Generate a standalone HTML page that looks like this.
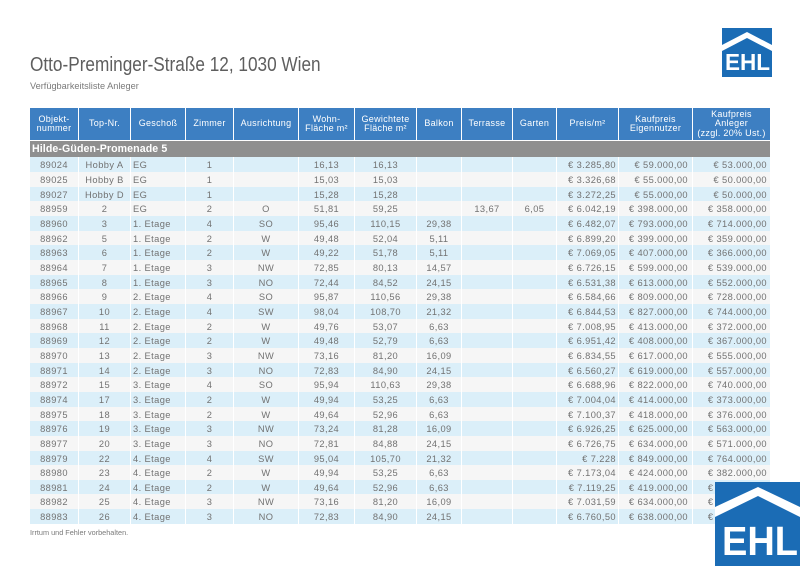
<!DOCTYPE html>
<html><head><meta charset="utf-8">
<style>
html,body{margin:0;padding:0;}
body{width:800px;height:566px;overflow:hidden;background:#fff;position:relative;font-family:"Liberation Sans",sans-serif;}
.title{position:absolute;left:30px;top:55px;font-size:20px;line-height:20px;color:#5e5e5e;white-space:nowrap;transform:scaleX(0.86);transform-origin:0 0;}
.sub{position:absolute;left:30px;top:82px;font-size:9.2px;line-height:9px;color:#7a7a7a;white-space:nowrap;}
.foot{position:absolute;left:30px;top:529px;font-size:7.3px;line-height:7.5px;color:#7a7a7a;white-space:nowrap;}
.tbl{position:absolute;left:30px;top:108px;width:740px;}
.h{display:flex;height:32px;background:#3d7fc2;color:#fff;font-size:9px;letter-spacing:0.3px;line-height:9.5px;}
.h div{box-sizing:border-box;border-right:1px solid #fff;display:flex;align-items:center;justify-content:center;text-align:center;}
.h div:last-child{border-right:none;}
.g{height:16.7px;margin-top:0.7px;background:#8f8f8f;color:#fff;font-weight:bold;font-size:10.6px;line-height:17px;padding-left:2px;letter-spacing:0.1px;}
.r{display:flex;height:14.667px;color:#727272;font-size:9.3px;letter-spacing:0.4px;}
.rows .r:nth-child(odd){background:#dbeff9;}
.rows .r:nth-child(even){background:#f6f6f6;}
.r span{box-sizing:border-box;border-right:1px solid #fff;line-height:15px;padding-top:1px;white-space:nowrap;overflow:hidden;text-align:center;}
.r span:last-child{border-right:none;}
.c1{width:49px}.c2{width:52px}.c3{width:55px}.c4{width:48px}.c5{width:65px}.c6{width:56px}.c7{width:62px}.c8{width:45px}.c9{width:51px}.c10{width:44px}.c11{width:62px}.c12{width:74px}.c13{width:77px}
.r span:nth-child(1){width:49px}
.r span:nth-child(2){width:52px}
.r span:nth-child(3){width:55px;text-align:left;padding-left:2px}
.r span:nth-child(4){width:48px}
.r span:nth-child(5){width:65px}
.r span:nth-child(6){width:56px}
.r span:nth-child(7){width:62px}
.r span:nth-child(8){width:45px}
.r span:nth-child(9){width:51px}
.r span:nth-child(10){width:44px}
.r span:nth-child(11){width:62px;text-align:right;padding-right:2px}
.r span:nth-child(12){width:74px;text-align:right;padding-right:4px}
.r span:nth-child(13){width:77px;text-align:right;padding-right:3px}
svg.logo{position:absolute;}
</style></head><body>
<div class="title">Otto-Preminger-Straße 12, 1030 Wien</div>
<div class="sub">Verfügbarkeitsliste Anleger</div>

<svg class="logo" style="left:722px;top:28px" width="50" height="49" viewBox="0 0 50 49">
<rect width="50" height="49" fill="#1b6cb5"/>
<polygon points="0,17 25,4 50,17 50,23 25,10 0,23" fill="#fff"/>
<text x="3" y="42" font-family="Liberation Sans" font-weight="bold" font-size="23.5" fill="#fff" textLength="45" lengthAdjust="spacingAndGlyphs">EHL</text>
</svg>

<div class="tbl">
<div class="h">
<div class="c1">Objekt-<br>nummer</div>
<div class="c2">Top-Nr.</div>
<div class="c3">Geschoß</div>
<div class="c4">Zimmer</div>
<div class="c5">Ausrichtung</div>
<div class="c6">Wohn-<br>Fläche m²</div>
<div class="c7">Gewichtete<br>Fläche m²</div>
<div class="c8">Balkon</div>
<div class="c9">Terrasse</div>
<div class="c10">Garten</div>
<div class="c11">Preis/m²</div>
<div class="c12">Kaufpreis<br>Eigennutzer</div>
<div class="c13">Kaufpreis<br>Anleger<br>(zzgl. 20% Ust.)</div>
</div>
<div class="g">Hilde-Güden-Promenade 5</div>
<div class="rows">
<div class="r"><span>89024</span><span>Hobby A</span><span>EG</span><span>1</span><span></span><span>16,13</span><span>16,13</span><span></span><span></span><span></span><span>€ 3.285,80</span><span>€ 59.000,00</span><span>€ 53.000,00</span></div>
<div class="r"><span>89025</span><span>Hobby B</span><span>EG</span><span>1</span><span></span><span>15,03</span><span>15,03</span><span></span><span></span><span></span><span>€ 3.326,68</span><span>€ 55.000,00</span><span>€ 50.000,00</span></div>
<div class="r"><span>89027</span><span>Hobby D</span><span>EG</span><span>1</span><span></span><span>15,28</span><span>15,28</span><span></span><span></span><span></span><span>€ 3.272,25</span><span>€ 55.000,00</span><span>€ 50.000,00</span></div>
<div class="r"><span>88959</span><span>2</span><span>EG</span><span>2</span><span>O</span><span>51,81</span><span>59,25</span><span></span><span>13,67</span><span>6,05</span><span>€ 6.042,19</span><span>€ 398.000,00</span><span>€ 358.000,00</span></div>
<div class="r"><span>88960</span><span>3</span><span>1. Etage</span><span>4</span><span>SO</span><span>95,46</span><span>110,15</span><span>29,38</span><span></span><span></span><span>€ 6.482,07</span><span>€ 793.000,00</span><span>€ 714.000,00</span></div>
<div class="r"><span>88962</span><span>5</span><span>1. Etage</span><span>2</span><span>W</span><span>49,48</span><span>52,04</span><span>5,11</span><span></span><span></span><span>€ 6.899,20</span><span>€ 399.000,00</span><span>€ 359.000,00</span></div>
<div class="r"><span>88963</span><span>6</span><span>1. Etage</span><span>2</span><span>W</span><span>49,22</span><span>51,78</span><span>5,11</span><span></span><span></span><span>€ 7.069,05</span><span>€ 407.000,00</span><span>€ 366.000,00</span></div>
<div class="r"><span>88964</span><span>7</span><span>1. Etage</span><span>3</span><span>NW</span><span>72,85</span><span>80,13</span><span>14,57</span><span></span><span></span><span>€ 6.726,15</span><span>€ 599.000,00</span><span>€ 539.000,00</span></div>
<div class="r"><span>88965</span><span>8</span><span>1. Etage</span><span>3</span><span>NO</span><span>72,44</span><span>84,52</span><span>24,15</span><span></span><span></span><span>€ 6.531,38</span><span>€ 613.000,00</span><span>€ 552.000,00</span></div>
<div class="r"><span>88966</span><span>9</span><span>2. Etage</span><span>4</span><span>SO</span><span>95,87</span><span>110,56</span><span>29,38</span><span></span><span></span><span>€ 6.584,66</span><span>€ 809.000,00</span><span>€ 728.000,00</span></div>
<div class="r"><span>88967</span><span>10</span><span>2. Etage</span><span>4</span><span>SW</span><span>98,04</span><span>108,70</span><span>21,32</span><span></span><span></span><span>€ 6.844,53</span><span>€ 827.000,00</span><span>€ 744.000,00</span></div>
<div class="r"><span>88968</span><span>11</span><span>2. Etage</span><span>2</span><span>W</span><span>49,76</span><span>53,07</span><span>6,63</span><span></span><span></span><span>€ 7.008,95</span><span>€ 413.000,00</span><span>€ 372.000,00</span></div>
<div class="r"><span>88969</span><span>12</span><span>2. Etage</span><span>2</span><span>W</span><span>49,48</span><span>52,79</span><span>6,63</span><span></span><span></span><span>€ 6.951,42</span><span>€ 408.000,00</span><span>€ 367.000,00</span></div>
<div class="r"><span>88970</span><span>13</span><span>2. Etage</span><span>3</span><span>NW</span><span>73,16</span><span>81,20</span><span>16,09</span><span></span><span></span><span>€ 6.834,55</span><span>€ 617.000,00</span><span>€ 555.000,00</span></div>
<div class="r"><span>88971</span><span>14</span><span>2. Etage</span><span>3</span><span>NO</span><span>72,83</span><span>84,90</span><span>24,15</span><span></span><span></span><span>€ 6.560,27</span><span>€ 619.000,00</span><span>€ 557.000,00</span></div>
<div class="r"><span>88972</span><span>15</span><span>3. Etage</span><span>4</span><span>SO</span><span>95,94</span><span>110,63</span><span>29,38</span><span></span><span></span><span>€ 6.688,96</span><span>€ 822.000,00</span><span>€ 740.000,00</span></div>
<div class="r"><span>88974</span><span>17</span><span>3. Etage</span><span>2</span><span>W</span><span>49,94</span><span>53,25</span><span>6,63</span><span></span><span></span><span>€ 7.004,04</span><span>€ 414.000,00</span><span>€ 373.000,00</span></div>
<div class="r"><span>88975</span><span>18</span><span>3. Etage</span><span>2</span><span>W</span><span>49,64</span><span>52,96</span><span>6,63</span><span></span><span></span><span>€ 7.100,37</span><span>€ 418.000,00</span><span>€ 376.000,00</span></div>
<div class="r"><span>88976</span><span>19</span><span>3. Etage</span><span>3</span><span>NW</span><span>73,24</span><span>81,28</span><span>16,09</span><span></span><span></span><span>€ 6.926,25</span><span>€ 625.000,00</span><span>€ 563.000,00</span></div>
<div class="r"><span>88977</span><span>20</span><span>3. Etage</span><span>3</span><span>NO</span><span>72,81</span><span>84,88</span><span>24,15</span><span></span><span></span><span>€ 6.726,75</span><span>€ 634.000,00</span><span>€ 571.000,00</span></div>
<div class="r"><span>88979</span><span>22</span><span>4. Etage</span><span>4</span><span>SW</span><span>95,04</span><span>105,70</span><span>21,32</span><span></span><span></span><span>€ 7.228</span><span>€ 849.000,00</span><span>€ 764.000,00</span></div>
<div class="r"><span>88980</span><span>23</span><span>4. Etage</span><span>2</span><span>W</span><span>49,94</span><span>53,25</span><span>6,63</span><span></span><span></span><span>€ 7.173,04</span><span>€ 424.000,00</span><span>€ 382.000,00</span></div>
<div class="r"><span>88981</span><span>24</span><span>4. Etage</span><span>2</span><span>W</span><span>49,64</span><span>52,96</span><span>6,63</span><span></span><span></span><span>€ 7.119,25</span><span>€ 419.000,00</span><span>€ 377.000,00</span></div>
<div class="r"><span>88982</span><span>25</span><span>4. Etage</span><span>3</span><span>NW</span><span>73,16</span><span>81,20</span><span>16,09</span><span></span><span></span><span>€ 7.031,59</span><span>€ 634.000,00</span><span>€ 571.000,00</span></div>
<div class="r"><span>88983</span><span>26</span><span>4. Etage</span><span>3</span><span>NO</span><span>72,83</span><span>84,90</span><span>24,15</span><span></span><span></span><span>€ 6.760,50</span><span>€ 638.000,00</span><span>€ 574.000,00</span></div>
</div>
</div>

<div class="foot">Irrtum und Fehler vorbehalten.</div>

<svg class="logo" style="left:715px;top:482px" width="85" height="84" viewBox="0 0 85 84">
<rect width="85" height="84" fill="#1b6cb5"/>
<polygon points="0,25 43,5 85,25 85,35 43,14 0,35" fill="#fff"/>
<text x="7" y="73" font-family="Liberation Sans" font-weight="bold" font-size="41" fill="#fff" textLength="76" lengthAdjust="spacingAndGlyphs">EHL</text>
</svg>
</body></html>
